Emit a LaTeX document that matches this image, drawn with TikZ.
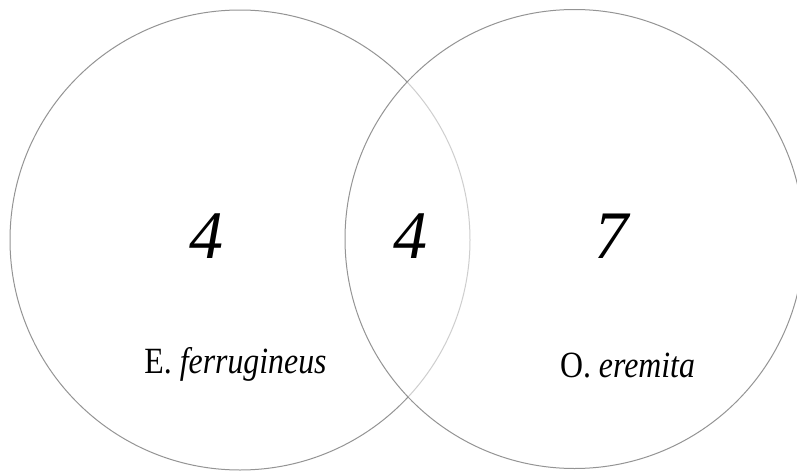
\documentclass[tikz,border=0pt]{standalone}
\usepackage{fontspec}
\setmainfont{Liberation Serif}
\newfontfamily\labfont[FakeStretch=0.86]{Liberation Serif}
\begin{document}
\begin{tikzpicture}[x=1pt,y=-1pt,
  setcircle/.style={draw=black!42, line width=1pt},
  countlab/.style={anchor=base, inner sep=0pt, font=\fontsize{68}{70}\selectfont\itshape},
  namelab/.style={anchor=base, inner sep=0pt, font=\fontsize{37}{40}\labfont}]
\useasboundingbox (0,0) rectangle (797,471);
\fill[white] (0,0) rectangle (797,471);
\draw[setcircle] (240,240) circle[radius=230];
\draw[setcircle, fill=white, fill opacity=0.55] (574.5,239) circle[radius=229.5];
\node[countlab] (nleft) at (206,258) {4};
\node[countlab] (nmid) at (410,258) {4};
\node[countlab] (nright) at (611,258) {7};
\node[namelab] (lname) at (235.5,373) {E. \textit{ferrugineus}};
\node[namelab] (rname) at (627.5,377) {O. \textit{eremita}};
\end{tikzpicture}
\end{document}
